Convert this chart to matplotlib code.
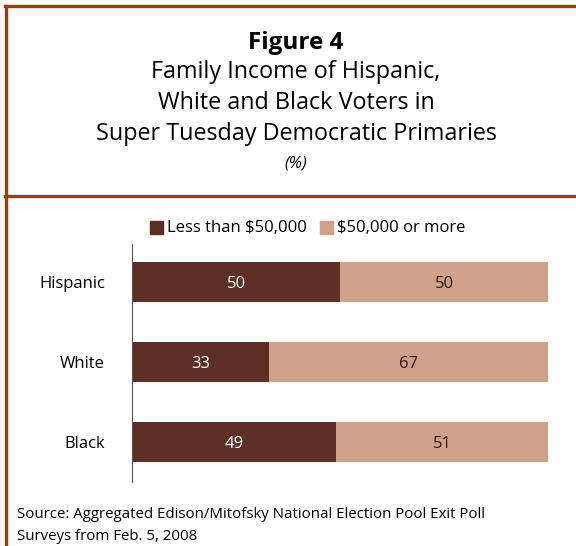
import matplotlib.pyplot as plt
from matplotlib.lines import Line2D
from matplotlib.patches import Rectangle

groups = ["Hispanic", "White", "Black"]
less_50k = [50, 33, 49]
more_50k = [50, 67, 51]
legend_labels = ["Less than $50,000", "$50,000 or more"]

dark = "#5E2F25"
light = "#CFA189"
frame = "#A33A0E"

plt.rcParams['font.family'] = ['Open Sans', 'DejaVu Sans']

fig = plt.figure(figsize=(5.76, 5.46), dpi=100)
W, H = 576, 546

def fx(px):
    return px / W

def fy(py):
    return 1 - py / H

# frame lines
fig.add_artist(Line2D([fx(5.5), fx(5.5)], [fy(5.5), 0], color=frame, lw=2.4, transform=fig.transFigure))
fig.add_artist(Line2D([fx(4.5), 1], [fy(5.5), fy(5.5)], color=frame, lw=2.4, transform=fig.transFigure))
fig.add_artist(Line2D([fx(4.5), 1], [fy(195.5), fy(195.5)], color=frame, lw=2.4, transform=fig.transFigure))

# titles
cx = fx(296)
fig.text(cx, fy(43), "Figure 4", ha="center", va="center", fontsize=17.5, fontweight="bold")
title_lines = ["Family Income of Hispanic,", "White and Black Voters in",
               "Super Tuesday Democratic Primaries"]
for i, t in enumerate(title_lines):
    fig.text(cx, fy(72 + 31 * i), t, ha="center", va="center", fontsize=16.8)
fig.text(cx, fy(164), "(%)", ha="center", va="center", fontsize=12, style="italic")

ax = fig.add_axes([fx(132), fy(482), fx(548) - fx(132), fy(244) - fy(482)])
ypos = list(range(len(groups)))[::-1]
ax.barh(ypos, less_50k, height=0.5, color=dark)
ax.barh(ypos, more_50k, left=less_50k, height=0.5, color=light)
for y, a, b in zip(ypos, less_50k, more_50k):
    ax.text(a / 2, y, str(a), ha="center", va="center_baseline", color="white", fontsize=12)
    ax.text(a + b / 2, y, str(b), ha="center", va="center_baseline", color="#2b1a14", fontsize=12)

ax.set_xlim(0, 100)
ax.set_ylim(-0.5, 2.475)
ax.set_yticks(ypos)
ax.set_yticklabels(groups, fontsize=12)
ax.tick_params(axis="y", length=0, pad=19.5)
ax.set_xticks([])
for s in ["top", "right", "bottom"]:
    ax.spines[s].set_visible(False)
ax.spines["left"].set_color("#555555")
ax.spines["left"].set_linewidth(0.8)

# legend
fig.add_artist(Rectangle((fx(150), fy(234)), 13 / W, 13 / H, color=dark, transform=fig.transFigure))
fig.text(fx(167), fy(227.5), legend_labels[0], ha="left", va="center", fontsize=12)
fig.add_artist(Rectangle((fx(320), fy(234)), 13 / W, 13 / H, color=light, transform=fig.transFigure))
fig.text(fx(337), fy(227.5), legend_labels[1], ha="left", va="center", fontsize=12)

fig.text(fx(17), fy(515), "Source: Aggregated Edison/Mitofsky National Election Pool Exit Poll",
         ha="left", va="center", fontsize=10.85)
fig.text(fx(17), fy(537), "Surveys from Feb. 5, 2008", ha="left", va="center", fontsize=10.85)

fig.savefig("out.png", dpi=100)
